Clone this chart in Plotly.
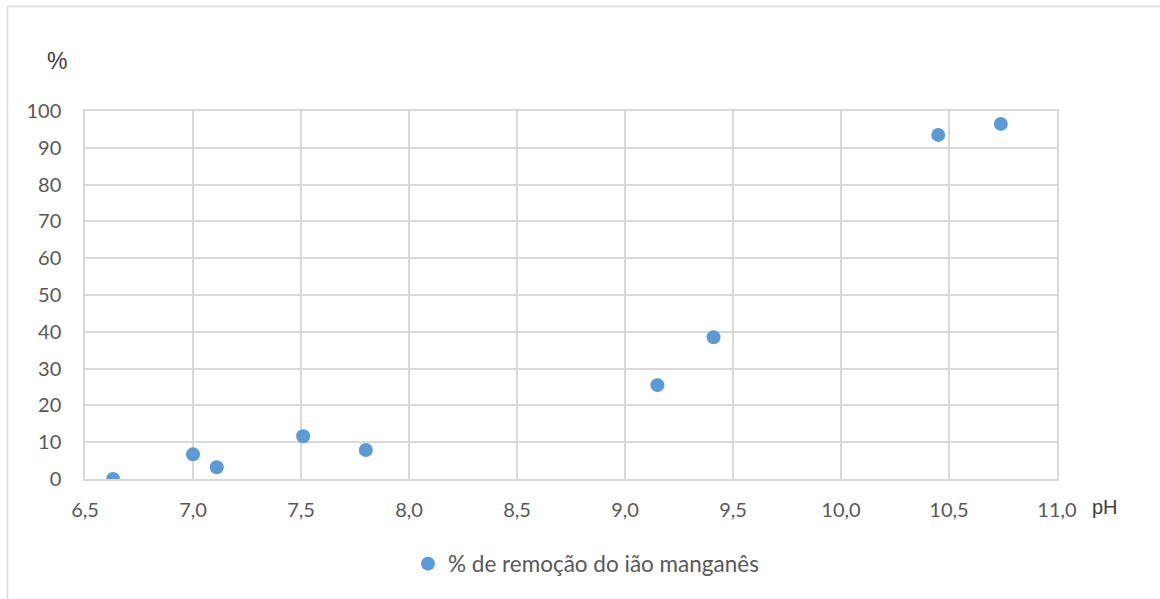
import plotly.graph_objects as go

# Manganese ion removal (%) as a function of pH
ph = [6.63, 7.00, 7.11, 7.51, 7.80, 9.15, 9.41, 10.45, 10.74]
removal = [0.0, 6.7, 3.2, 11.6, 7.9, 25.5, 38.5, 93.5, 96.5]
series_name = "% de remoção do ião manganês"

x_ticks = [6.5, 7.0, 7.5, 8.0, 8.5, 9.0, 9.5, 10.0, 10.5, 11.0]
x_tick_text = ["6,5", "7,0", "7,5", "8,0", "8,5", "9,0", "9,5", "10,0", "10,5", "11,0"]
y_ticks = [0, 10, 20, 30, 40, 50, 60, 70, 80, 90, 100]

W, H = 1160, 599
L, R, T, B = 85, 103, 111, 120
pw, ph_px = W - L - R, H - T - B


def px_x(px):
    return (px - L) / pw


def px_y(py):
    return (H - B - py) / ph_px


text_color = "#595959"
grid_color = "#D9D9D9"
font_family = "Lato, Open Sans, sans-serif"

fig = go.Figure()
fig.add_trace(go.Scatter(
    x=ph, y=removal, mode="markers", name=series_name,
    marker=dict(color="#5B9BD5", size=14, line=dict(width=0)),
))

fig.update_layout(
    width=W, height=H,
    margin=dict(l=L, r=R, t=T, b=B),
    paper_bgcolor="white", plot_bgcolor="white",
    font=dict(family=font_family, size=20, color=text_color),
    showlegend=True,
    legend=dict(
        orientation="h", x=px_x(408), xanchor="left", y=px_y(564), yanchor="middle",
        font=dict(size=22.5, color=text_color), itemwidth=30,
        bgcolor="rgba(0,0,0,0)",
    ),
    xaxis=dict(
        range=[6.5, 11.0], tickvals=x_ticks, ticktext=x_tick_text,
        showgrid=True, gridcolor=grid_color, gridwidth=1.5,
        showline=True, linecolor=grid_color, linewidth=1.5, mirror=True,
        zeroline=False, ticks="", ticklabelstandoff=12,
        tickfont=dict(size=20, color=text_color),
    ),
    yaxis=dict(
        range=[0, 100], tickvals=y_ticks,
        showgrid=True, gridcolor=grid_color, gridwidth=1.5,
        showline=True, linecolor=grid_color, linewidth=1.5, mirror=True,
        zeroline=False, ticks="", ticklabelstandoff=18,
        tickfont=dict(size=20, color=text_color),
    ),
    annotations=[
        dict(text="%", x=px_x(57), y=px_y(61), xref="paper", yref="paper",
             showarrow=False, xanchor="center", yanchor="middle",
             font=dict(family="Liberation Sans, Arial, sans-serif", size=23, color="#404040")),
        dict(text="pH", x=px_x(1105), y=px_y(507), xref="paper", yref="paper",
             showarrow=False, xanchor="center", yanchor="middle",
             font=dict(family="Liberation Sans, Arial, sans-serif", size=20, color="#404040")),
    ],
    shapes=[
        dict(type="line", xref="paper", yref="paper",
             x0=px_x(7.5), x1=px_x(W), y0=px_y(6.5), y1=px_y(6.5),
             line=dict(color=grid_color, width=1.5)),
        dict(type="line", xref="paper", yref="paper",
             x0=px_x(7.5), x1=px_x(7.5), y0=px_y(6.5), y1=px_y(H),
             line=dict(color=grid_color, width=1.5)),
    ],
)

fig.write_html("out.html")
